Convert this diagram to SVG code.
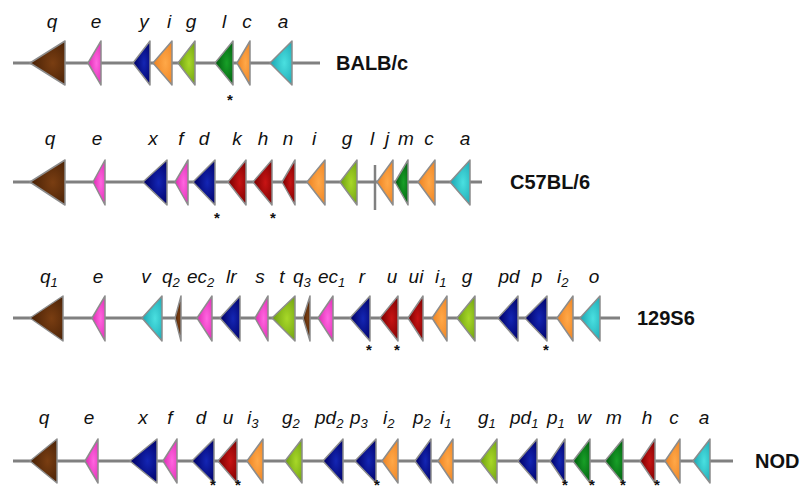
<svg xmlns="http://www.w3.org/2000/svg" width="802" height="493" viewBox="0 0 802 493">
<defs>
<radialGradient id="gBr" cx="0.65" cy="0.5" r="0.6"><stop offset="0" stop-color="#7a3e12"/><stop offset="1" stop-color="#4a2206"/></radialGradient>
<radialGradient id="gPk" cx="0.65" cy="0.5" r="0.6"><stop offset="0" stop-color="#ff66e0"/><stop offset="1" stop-color="#e02cb4"/></radialGradient>
<radialGradient id="gBl" cx="0.65" cy="0.5" r="0.6"><stop offset="0" stop-color="#1426b4"/><stop offset="1" stop-color="#000066"/></radialGradient>
<radialGradient id="gOr" cx="0.65" cy="0.5" r="0.6"><stop offset="0" stop-color="#ffa848"/><stop offset="1" stop-color="#ee8424"/></radialGradient>
<radialGradient id="gLg" cx="0.65" cy="0.5" r="0.6"><stop offset="0" stop-color="#a8d828"/><stop offset="1" stop-color="#6fa012"/></radialGradient>
<radialGradient id="gDg" cx="0.65" cy="0.5" r="0.6"><stop offset="0" stop-color="#18a028"/><stop offset="1" stop-color="#005e0e"/></radialGradient>
<radialGradient id="gCy" cx="0.65" cy="0.5" r="0.6"><stop offset="0" stop-color="#4ae0e0"/><stop offset="1" stop-color="#1ea8b4"/></radialGradient>
<radialGradient id="gRd" cx="0.65" cy="0.5" r="0.6"><stop offset="0" stop-color="#c81414"/><stop offset="1" stop-color="#7a0000"/></radialGradient>
</defs>
<style>
.t{stroke:#8c8c8c;stroke-width:1.5;stroke-linejoin:round}
.br{fill:url(#gBr)}.pk{fill:url(#gPk)}.bl{fill:url(#gBl)}.or{fill:url(#gOr)}
.lg{fill:url(#gLg)}.dg{fill:url(#gDg)}.cy{fill:url(#gCy)}.rd{fill:url(#gRd)}
.ln{stroke:#808080;stroke-width:3;fill:none}
.bar{stroke:#808080;stroke-width:2.5;fill:none}
.lb{font-family:"Liberation Sans",Arial,sans-serif;font-style:italic;font-size:19px;fill:#111;text-anchor:middle}
.ls{font-family:"Liberation Sans",Arial,sans-serif;font-style:italic;font-size:19px;fill:#111}
.sub{font-size:13px}
.st{font-family:"Liberation Sans",Arial,sans-serif;font-weight:bold;font-size:20px;fill:#111}
.as{font-family:"Liberation Sans",Arial,sans-serif;font-weight:bold;font-size:15px;fill:#111;text-anchor:middle}
</style>
<rect width="802" height="493" fill="#fff"/>
<g id="connectors">
<line class="ln" x1="13" y1="63" x2="320" y2="63"/>
<line class="ln" x1="13" y1="182" x2="482" y2="182"/>
<line class="ln" x1="13" y1="318" x2="620" y2="318"/>
<line class="ln" x1="13" y1="461" x2="733" y2="461"/>
</g>
<g id="row1">
<g id="r1-q"><polygon class="t br" points="30,63 65,41 65,85"/><text class="lb" x="52" y="28">q</text></g>
<g id="r1-e"><polygon class="t pk" points="88,63 101,41 101,85"/><text class="lb" x="96" y="28">e</text></g>
<g id="r1-y"><polygon class="t bl" points="133,63 150,41 150,85"/><text class="lb" x="144" y="28">y</text></g>
<g id="r1-i"><polygon class="t or" points="153,63 172,41 172,85"/><text class="lb" x="169" y="28">i</text></g>
<g id="r1-g"><polygon class="t lg" points="178,63 195,41 195,85"/><text class="lb" x="191" y="28">g</text></g>
<g id="r1-l"><polygon class="t dg" points="215,63 233,41 233,85"/><text class="lb" x="224" y="28">l</text><text class="as" x="230" y="105">*</text></g>
<g id="r1-c"><polygon class="t or" points="237,63 250,41 250,85"/><text class="lb" x="247" y="28">c</text></g>
<g id="r1-a"><polygon class="t cy" points="270,63 292,41 292,85"/><text class="lb" x="283" y="28">a</text></g>
<text id="BALBc" class="st" x="336" y="70">BALB/c</text>
</g>
<g id="row2">
<g id="r2-q"><polygon class="t br" points="30,182 65,160 65,205"/><text class="lb" x="50" y="145">q</text></g>
<g id="r2-e"><polygon class="t pk" points="93,182 105,160 105,205"/><text class="lb" x="97" y="145">e</text></g>
<g id="r2-x"><polygon class="t bl" points="143,182 167,160 167,205"/><text class="lb" x="153" y="145">x</text></g>
<g id="r2-f"><polygon class="t pk" points="175,182 188,160 188,205"/><text class="lb" x="181" y="145">f</text></g>
<g id="r2-d"><polygon class="t bl" points="193,182 215,160 215,205"/><text class="lb" x="204" y="145">d</text><text class="as" x="217" y="223">*</text></g>
<g id="r2-k"><polygon class="t rd" points="228,182 246,160 246,205"/><text class="lb" x="237" y="145">k</text></g>
<g id="r2-h"><polygon class="t rd" points="253,182 272,160 272,205"/><text class="lb" x="263" y="145">h</text><text class="as" x="273" y="223">*</text></g>
<g id="r2-n"><polygon class="t rd" points="282,182 295,160 295,205"/><text class="lb" x="288" y="145">n</text></g>
<g id="r2-i"><polygon class="t or" points="307,182 325,160 325,205"/><text class="lb" x="314" y="145">i</text></g>
<g id="r2-g"><polygon class="t lg" points="340,182 357,160 357,205"/><text class="lb" x="347" y="145">g</text></g>
<g id="r2-l"><line class="bar" x1="375" y1="165" x2="375" y2="210"/><text class="lb" x="372" y="145">l</text></g>
<g id="r2-j"><polygon class="t or" points="377,182 393,160 393,205"/><text class="lb" x="387" y="145">j</text></g>
<g id="r2-m"><polygon class="t dg" points="395,182 408,160 408,205"/><text class="lb" x="406" y="145">m</text></g>
<g id="r2-c"><polygon class="t or" points="418,182 435,160 435,205"/><text class="lb" x="429" y="145">c</text></g>
<g id="r2-a"><polygon class="t cy" points="450,182 470,160 470,205"/><text class="lb" x="465" y="145">a</text></g>
<text id="C57BL6" class="st" x="510" y="189">C57BL/6</text>
</g>
<g id="row3">
<g id="r3-q1"><polygon class="t br" points="30,318 63,296 63,341"/><text class="ls" x="40" y="283">q<tspan class="sub" dy="4">1</tspan></text></g>
<g id="r3-e"><polygon class="t pk" points="92,318 105,296 105,341"/><text class="lb" x="98" y="283">e</text></g>
<g id="r3-v"><polygon class="t cy" points="142,318 162,296 162,341"/><text class="lb" x="146" y="283">v</text></g>
<g id="r3-q2"><polygon class="t br" points="175,318 181,296 181,341"/><text class="ls" x="162" y="283">q<tspan class="sub" dy="4">2</tspan></text></g>
<g id="r3-ec2"><polygon class="t pk" points="197,318 212,296 212,341"/><text class="ls" x="187" y="283">ec<tspan class="sub" dy="4">2</tspan></text></g>
<g id="r3-lr"><polygon class="t bl" points="220,318 240,296 240,341"/><text class="ls" x="226" y="283">lr</text></g>
<g id="r3-s"><polygon class="t pk" points="255,318 268,296 268,341"/><text class="lb" x="260" y="283">s</text></g>
<g id="r3-t"><polygon class="t lg" points="272,318 295,296 295,341"/><text class="lb" x="282" y="283">t</text></g>
<g id="r3-q3"><polygon class="t br" points="303,318 310,296 310,341"/><text class="ls" x="293" y="283">q<tspan class="sub" dy="4">3</tspan></text></g>
<g id="r3-ec1"><polygon class="t pk" points="318,318 333,296 333,341"/><text class="ls" x="318" y="283">ec<tspan class="sub" dy="4">1</tspan></text></g>
<g id="r3-r"><polygon class="t bl" points="350,318 370,296 370,341"/><text class="lb" x="362" y="283">r</text><text class="as" x="369" y="355">*</text></g>
<g id="r3-u"><polygon class="t rd" points="380,318 398,296 398,341"/><text class="lb" x="392" y="283">u</text><text class="as" x="397" y="355">*</text></g>
<g id="r3-ui"><polygon class="t rd" points="408,318 423,296 423,341"/><text class="lb" x="416" y="283">ui</text></g>
<g id="r3-i1"><polygon class="t or" points="432,318 447,296 447,341"/><text class="ls" x="435" y="283">i<tspan class="sub" dy="4">1</tspan></text></g>
<g id="r3-g"><polygon class="t lg" points="457,318 475,296 475,341"/><text class="lb" x="467" y="283">g</text></g>
<g id="r3-pd"><polygon class="t bl" points="498,318 518,296 518,341"/><text class="lb" x="509" y="283">pd</text></g>
<g id="r3-p"><polygon class="t bl" points="525,318 547,296 547,341"/><text class="lb" x="537" y="283">p</text><text class="as" x="546" y="355">*</text></g>
<g id="r3-i2"><polygon class="t or" points="557,318 573,296 573,341"/><text class="ls" x="557" y="283">i<tspan class="sub" dy="4">2</tspan></text></g>
<g id="r3-o"><polygon class="t cy" points="580,318 600,296 600,341"/><text class="lb" x="594" y="283">o</text></g>
<text id="S129S6" class="st" x="637" y="325">129S6</text>
</g>
<g id="row4">
<g id="r4-q"><polygon class="t br" points="30,461 57,439 57,483"/><text class="lb" x="44" y="424">q</text></g>
<g id="r4-e"><polygon class="t pk" points="85,461 98,439 98,483"/><text class="lb" x="89" y="424">e</text></g>
<g id="r4-x"><polygon class="t bl" points="130,461 157,439 157,483"/><text class="lb" x="143" y="424">x</text></g>
<g id="r4-f"><polygon class="t pk" points="163,461 177,439 177,483"/><text class="lb" x="170" y="424">f</text></g>
<g id="r4-d"><polygon class="t bl" points="192,461 214,439 214,483"/><text class="lb" x="201" y="424">d</text><text class="as" x="213" y="490">*</text></g>
<g id="r4-u"><polygon class="t rd" points="218,461 237,439 237,483"/><text class="lb" x="228" y="424">u</text><text class="as" x="238" y="490">*</text></g>
<g id="r4-i3"><polygon class="t or" points="247,461 263,439 263,483"/><text class="ls" x="247" y="424">i<tspan class="sub" dy="4">3</tspan></text></g>
<g id="r4-g2"><polygon class="t lg" points="285,461 302,439 302,483"/><text class="ls" x="282" y="424">g<tspan class="sub" dy="4">2</tspan></text></g>
<g id="r4-pd2"><polygon class="t bl" points="323,461 343,439 343,483"/><text class="ls" x="315" y="424">pd<tspan class="sub" dy="4">2</tspan></text></g>
<g id="r4-p3"><polygon class="t bl" points="355,461 376,439 376,483"/><text class="ls" x="350" y="424">p<tspan class="sub" dy="4">3</tspan></text><text class="as" x="377" y="490">*</text></g>
<g id="r4-i2"><polygon class="t or" points="382,461 398,439 398,483"/><text class="ls" x="383" y="424">i<tspan class="sub" dy="4">2</tspan></text></g>
<g id="r4-p2"><polygon class="t bl" points="415,461 431,439 431,483"/><text class="ls" x="413" y="424">p<tspan class="sub" dy="4">2</tspan></text></g>
<g id="r4-i1"><polygon class="t or" points="438,461 453,439 453,483"/><text class="ls" x="440" y="424">i<tspan class="sub" dy="4">1</tspan></text></g>
<g id="r4-g1"><polygon class="t lg" points="480,461 497,439 497,483"/><text class="ls" x="478" y="424">g<tspan class="sub" dy="4">1</tspan></text></g>
<g id="r4-pd1"><polygon class="t bl" points="518,461 537,439 537,483"/><text class="ls" x="510" y="424">pd<tspan class="sub" dy="4">1</tspan></text></g>
<g id="r4-p1"><polygon class="t bl" points="550,461 565,439 565,483"/><text class="ls" x="547" y="424">p<tspan class="sub" dy="4">1</tspan></text><text class="as" x="565" y="490">*</text></g>
<g id="r4-w"><polygon class="t dg" points="573,461 590,439 590,483"/><text class="lb" x="584" y="424">w</text><text class="as" x="592" y="490">*</text></g>
<g id="r4-m"><polygon class="t dg" points="605,461 623,439 623,483"/><text class="lb" x="614" y="424">m</text><text class="as" x="623" y="490">*</text></g>
<g id="r4-h"><polygon class="t rd" points="640,461 655,439 655,483"/><text class="lb" x="647" y="424">h</text><text class="as" x="657" y="490">*</text></g>
<g id="r4-c"><polygon class="t or" points="665,461 680,439 680,483"/><text class="lb" x="674" y="424">c</text></g>
<g id="r4-a"><polygon class="t cy" points="693,461 710,439 710,483"/><text class="lb" x="704" y="424">a</text></g>
<text id="NOD" class="st" x="755" y="468">NOD</text>
</g>
</svg>
